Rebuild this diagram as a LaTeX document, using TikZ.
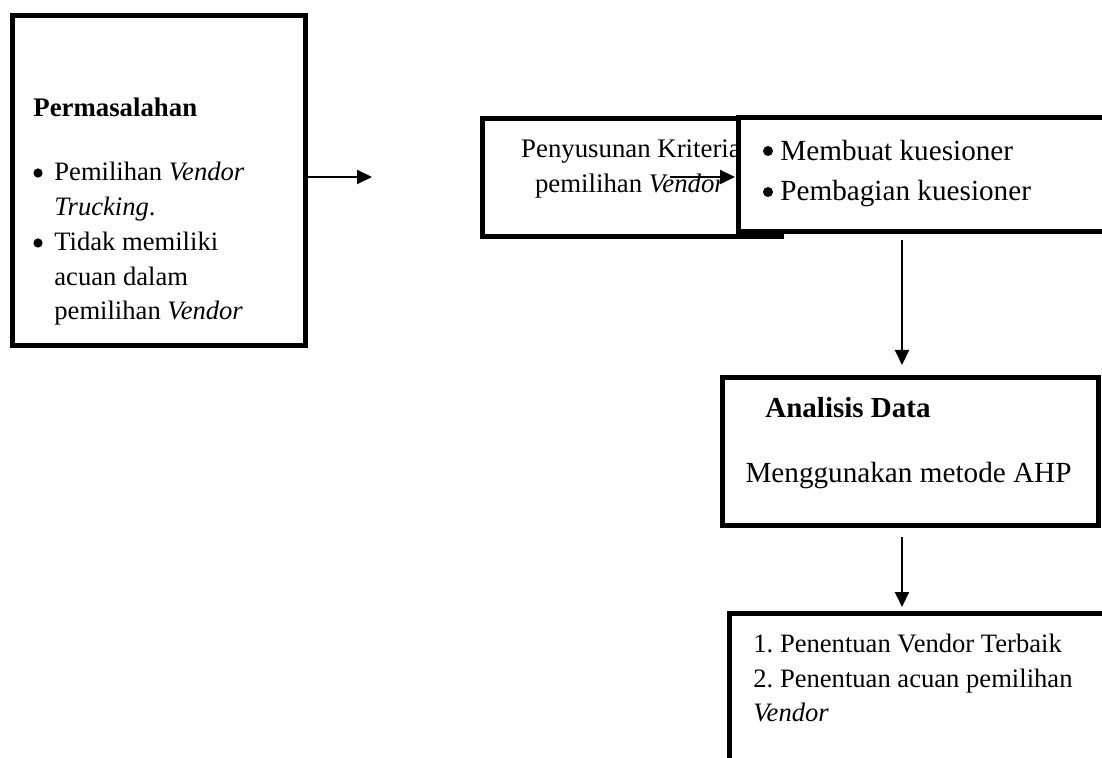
\documentclass[tikz,border=0pt]{standalone}
\usepackage{fontspec}
\setmainfont{Liberation Serif}
\usetikzlibrary{arrows.meta}
\frenchspacing
\begin{document}
\begin{tikzpicture}[x=0.5pt,y=-0.5pt,
  box/.style={draw, line width=2.5pt, inner sep=0pt, outer sep=0pt, fill=white},
  txt/.style={anchor=base west, inner sep=0pt},
  ctxt/.style={anchor=base, inner sep=0pt},
  bul/.style={circle, fill=black, inner sep=0pt, minimum size=4.6pt},
  bigbul/.style={circle, fill=black, inner sep=0pt, minimum size=5pt},
  arr/.style={line width=1pt, -{Triangle[length=7.5pt,width=7pt]}},
  fs/.style={font=\fontsize{13.3}{16}\selectfont},
  fl/.style={font=\fontsize{14.6}{18}\selectfont},
  fm/.style={font=\fontsize{13.4}{16}\selectfont}
]
\useasboundingbox (0,0) rectangle (1102,758);
\clip (0,0) rectangle (1102,758);

% Box 1
\node[box, minimum width=146.5pt, minimum height=165pt] (box1) at (158.5,181) {};
\node[txt, font=\bfseries\fontsize{13.4}{16}\selectfont] (t1) at (33,117) {Permasalahan};
\node[bul] (b1) at (38,173) {};
\node[txt, fs] (t2) at (54,181) {Pemilihan \textit{Vendor}};
\node[txt, fs] (t3) at (54,216) {\textit{Trucking}.};
\node[bul] (b2) at (38,243) {};
\node[txt, fs] (t4) at (54,251) {Tidak memiliki};
\node[txt, fs] (t5) at (54,286) {acuan dalam};
\node[txt, fs] (t6) at (54,320) {pemilihan \textit{Vendor}};

% Box 2
\node[box, minimum width=149.5pt, minimum height=59pt] (box2) at (631.5,178) {};
\node[ctxt, fm] (t7) at (631,158) {Penyusunan Kriteria};
\node[ctxt, fm] (t8) at (630,193) {pemilihan \textit{Vendor}};

% Box 3
\node[box, minimum width=191pt, minimum height=57pt] (box3) at (929,175) {};
\node[bigbul] (b3) at (768,151) {};
\node[txt, fl] (t9) at (780,161) {Membuat kuesioner};
\node[bigbul] (b4) at (768,192) {};
\node[txt, fl] (t10) at (780,201) {Pembagian kuesioner};

% Box 4
\node[box, minimum width=188pt, minimum height=73.5pt] (box4) at (910,451.5) {};
\node[txt, font=\bfseries\fontsize{14.5}{18}\selectfont] (t11) at (765,418) {Analisis Data};
\node[ctxt, fl] (t12) at (908.5,483) {Menggunakan metode AHP};

% Box 5
\node[box, minimum width=195.5pt, minimum height=83.5pt] (box5) at (924.5,696.5) {};
\node[txt, fs] (t13) at (753,652) {1. Penentuan Vendor Terbaik};
\node[txt, fs] (t14) at (753,687) {2. Penentuan acuan pemilihan};
\node[txt, fs] (t15) at (753,721) {\textit{Vendor}};

% Connectors
\coordinate (a1e) at (372,177);
\draw[arr] (box1.east |- a1e) -- (a1e);
\coordinate (a2s) at (670,177);
\draw[arr, shorten >=1.5pt] (a2s) -- (a2s -| box3.west);
\coordinate (ax) at (902,0);
\draw[arr, shorten <=4pt, shorten >=6.5pt] (box3.south -| ax) -- (box4.north -| ax);
\draw[arr, shorten <=6pt, shorten >=3pt] (box4.south -| ax) -- (box5.north -| ax);
\end{tikzpicture}
\end{document}
